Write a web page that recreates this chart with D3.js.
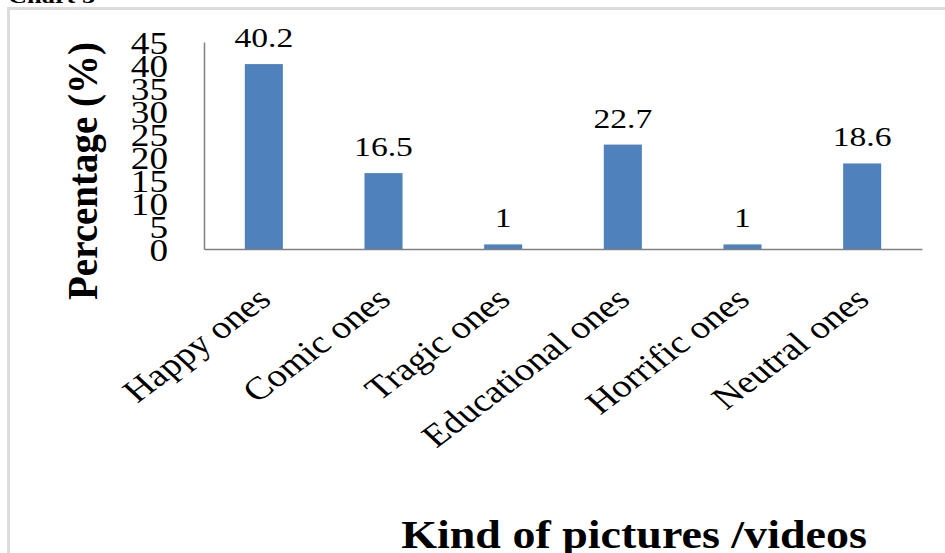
<!DOCTYPE html>
<html>
<head>
<meta charset="utf-8">
<script src="https://cdn.jsdelivr.net/npm/d3@7/dist/d3.min.js"></script>
<style>
  html, body { margin: 0; padding: 0; background: #fff; }
  svg { display: block; }
  text { font-family: "Liberation Serif", "Times New Roman", serif; fill: #000; }
</style>
</head>
<body>
<svg id="chart" width="945" height="553"></svg>
<script>
// Share of respondents by kind of pictures / videos
const categories = ["Happy ones", "Comic ones", "Tragic ones", "Educational ones", "Horrific ones", "Neutral ones"];
const percentages = [40.2, 16.5, 1, 22.7, 1, 18.6];
const yTicks = [0, 5, 10, 15, 20, 25, 30, 35, 40, 45];
const chartTitle = "Chart 5";
const xTitle = "Kind of pictures /videos";
const yTitle = "Percentage (%)";

const W = 945, H = 553;
const sx = 1.2; // horizontal text stretch
const svg = d3.select("#chart");

// outer frame
svg.append("rect").attr("x", 0).attr("y", 0).attr("width", W).attr("height", H).attr("fill", "#fff");
svg.append("path")
  .attr("d", `M8.5,${H} V8.5 H${W}`)
  .attr("fill", "none").attr("stroke", "#dcdcdc").attr("stroke-width", 3);

// partially visible heading above the frame
svg.append("text")
  .attr("transform", `translate(8,3) scale(${sx},1)`)
  .attr("font-size", 22).attr("font-weight", "bold")
  .text(chartTitle);

const plot = { left: 204, right: 922, top: 42, bottom: 249 };

const x = d3.scaleBand()
  .domain(categories)
  .range([plot.left, plot.right])
  .paddingInner(0.682)
  .paddingOuter(0.341);

const y = d3.scaleLinear()
  .domain([0, 45])
  .range([plot.bottom, plot.top]);

// bars
svg.append("g").selectAll("rect")
  .data(categories)
  .join("rect")
  .attr("x", (d) => x(d))
  .attr("width", x.bandwidth())
  .attr("y", (d, i) => y(percentages[i]))
  .attr("height", (d, i) => y(0) - y(percentages[i]))
  .attr("fill", "#4f81bd");

// value labels
svg.append("g").selectAll("text")
  .data(categories)
  .join("text")
  .attr("transform", (d, i) => `translate(${x(d) + x.bandwidth() / 2},${y(percentages[i]) - 17}) scale(${sx},1)`)
  .attr("text-anchor", "middle")
  .attr("font-size", 28)
  .text((d, i) => percentages[i]);

// y axis
const yAxis = d3.axisLeft(y).tickValues(yTicks).tickSize(0).tickPadding(0);
const gy = svg.append("g").attr("transform", `translate(${plot.left},0)`).call(yAxis);
gy.select(".domain").attr("stroke", "#808080").attr("stroke-width", 1.5);
gy.selectAll(".tick text")
  .attr("font-family", "Liberation Serif, Times New Roman, serif")
  .attr("font-size", 31)
  .attr("fill", "#000")
  .attr("x", null).attr("dy", null)
  .attr("dominant-baseline", "central")
  .attr("transform", `translate(-36,1) scale(${sx},1)`);

// x axis
const xAxis = d3.axisBottom(x).tickSize(0).tickPadding(0);
const gx = svg.append("g").attr("transform", `translate(0,${plot.bottom})`).call(xAxis);
gx.select(".domain").attr("stroke", "#808080").attr("stroke-width", 1.5);
gx.selectAll(".tick text")
  .attr("font-family", "Liberation Serif, Times New Roman, serif")
  .attr("font-size", 32)
  .attr("fill", "#000")
  .attr("y", null).attr("dy", null)
  .attr("text-anchor", "end")
  .attr("transform", `translate(9,53) scale(${sx},1) rotate(-42)`);

// axis titles
svg.append("text")
  .attr("transform", `translate(97,171) scale(1.1,1) rotate(-90)`)
  .attr("text-anchor", "middle")
  .attr("font-size", 39).attr("font-weight", "bold")
  .text(yTitle);

svg.append("text")
  .attr("transform", `translate(634,548) scale(1.18,1)`)
  .attr("text-anchor", "middle")
  .attr("font-size", 39).attr("font-weight", "bold")
  .text(xTitle);
</script>
</body>
</html>
